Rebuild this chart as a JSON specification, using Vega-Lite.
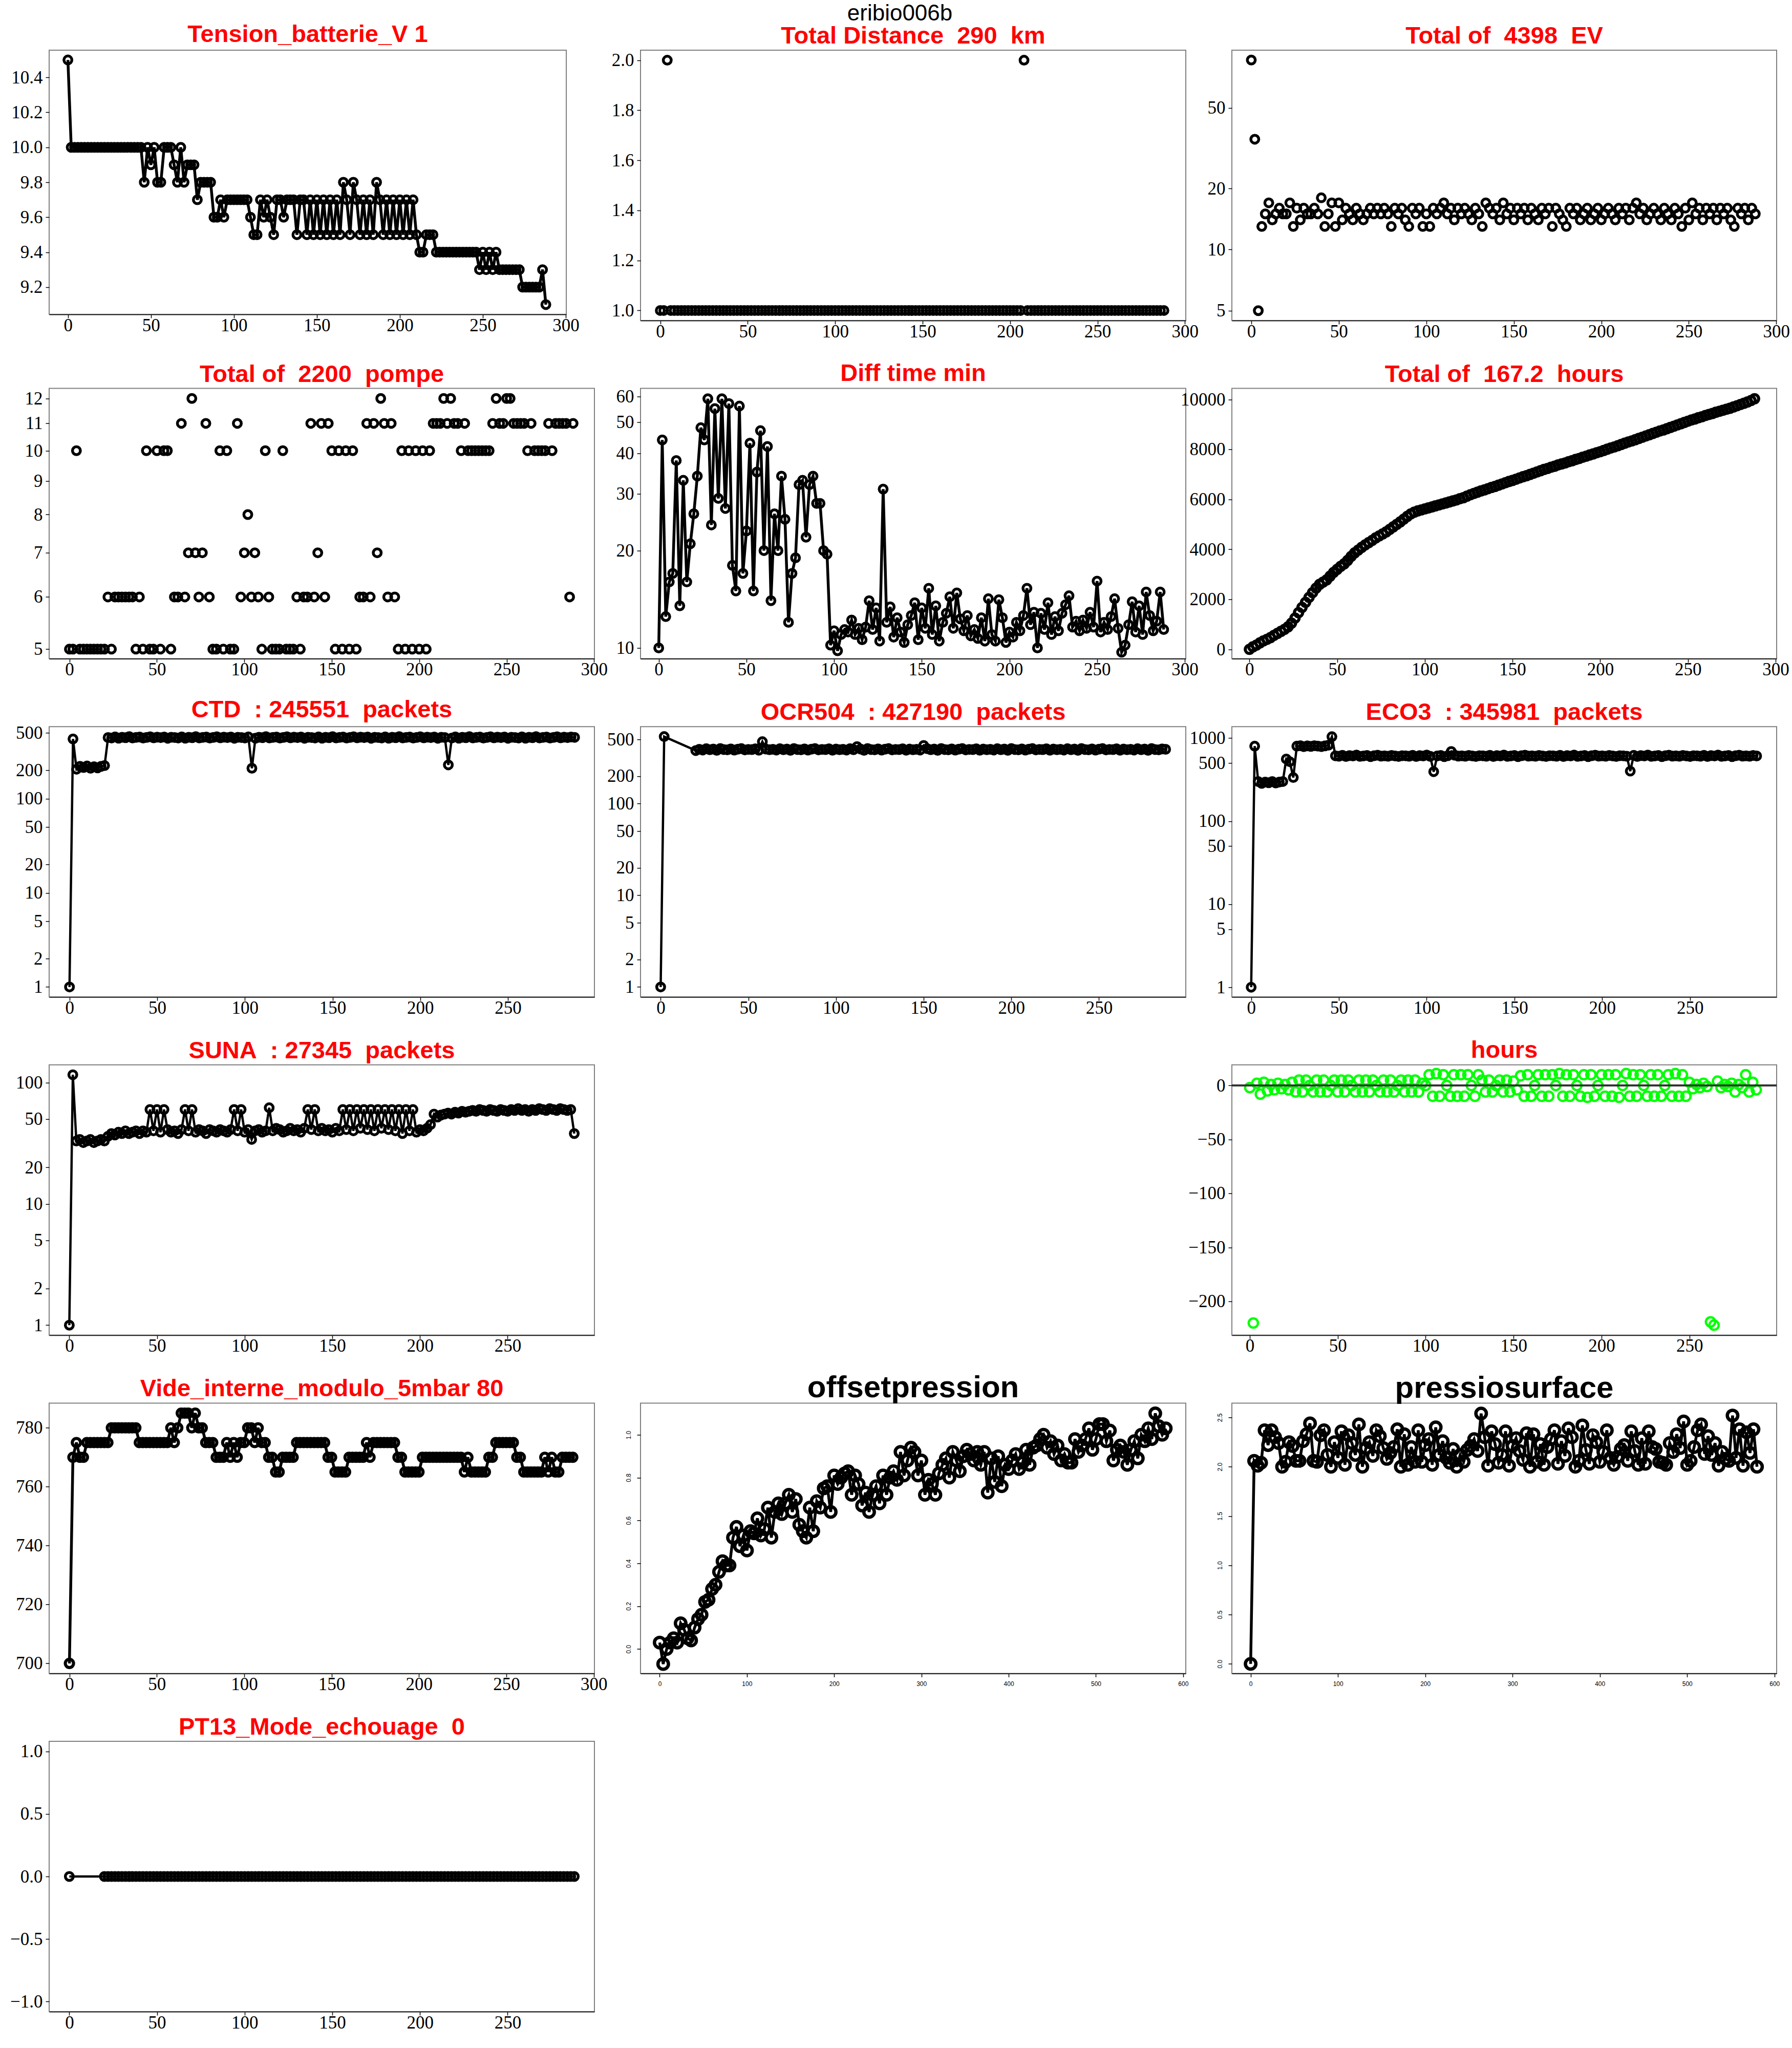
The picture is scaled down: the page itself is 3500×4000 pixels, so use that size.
{
"$schema": "https://vega.github.io/schema/vega-lite/v6.json",
"padding": {"left": 18, "top": 5, "right": 10, "bottom": 10},
"background": "white",
"title": {"text": "eribio006b", "fontWeight": "normal", "color": "black", "fontSize": 44, "offset": -6, "anchor": "middle", "frame": "bounds"},
"datasets": {
"m": [
{"x":0,"a":10.5,"b":1,"c":86,"d":5,"e":10,"f":0,"g":1,"h":1,"k":1,"s":1,"u":-2,"v":700,"w":0},
{"x":2,"a":10,"b":1,"c":35,"d":5,"e":44,"f":100,"g":430,"h":540,"k":800,"s":116,"u":-220,"v":770},
{"x":4,"a":10,"b":2,"c":5,"d":10,"e":12.5,"f":170,"g":205,"k":300,"s":33,"u":2,"v":775},
{"x":6,"a":10,"b":1,"c":13,"d":5,"e":16,"f":260,"g":220,"k":285,"s":34,"u":-8,"v":770},
{"x":8,"a":10,"b":1,"c":15,"d":5,"e":17,"f":340,"g":214,"k":295,"s":32,"u":3,"v":770},
{"x":10,"a":10,"b":1,"c":17,"d":5,"e":38,"f":400,"g":222,"k":290,"s":33,"u":-5,"v":775},
{"x":12,"a":10,"b":1,"c":14,"d":5,"e":13.5,"f":470,"g":210,"k":300,"s":34,"u":1,"v":775},
{"x":14,"a":10,"b":1,"c":15,"d":5,"e":33,"f":560,"g":218,"k":288,"s":32,"u":-4,"v":775},
{"x":16,"a":10,"b":1,"c":16,"d":5,"e":16,"f":640,"g":212,"k":295,"s":33,"u":2,"v":775},
{"x":18,"a":10,"b":1,"c":15,"d":5,"e":21,"f":720,"g":220,"k":300,"s":34,"u":-3,"v":775},
{"x":20,"a":10,"b":1,"c":15,"d":5,"e":26,"f":800,"g":224,"h":380,"k":560,"s":33,"u":1,"v":775,"w":0},
{"x":22,"a":10,"b":1,"c":17,"d":6,"e":34,"f":900,"g":445,"h":392,"k":520,"s":36,"u":-4,"v":775,"w":0},
{"x":24,"a":10,"b":1,"c":13,"d":5,"e":48,"f":1050,"g":440,"h":385,"k":335,"s":38,"u":3,"v":780,"w":0},
{"x":26,"a":10,"b":1,"c":16,"d":6,"e":44,"f":1250,"g":452,"h":398,"k":800,"s":37,"u":-6,"v":780,"w":0},
{"x":28,"a":10,"b":1,"c":14,"d":6,"e":59,"f":1470,"g":438,"h":388,"k":810,"s":39,"u":5,"v":780,"w":0},
{"x":30,"a":10,"b":1,"c":16,"d":6,"e":24,"f":1680,"g":448,"h":395,"k":790,"s":38,"u":-6,"v":780,"w":0},
{"x":32,"a":10,"b":1,"c":15,"d":6,"e":55,"f":1880,"g":443,"h":382,"k":805,"s":40,"u":5,"v":780,"w":0},
{"x":34,"a":10,"b":1,"c":15,"d":6,"e":29,"f":2080,"g":455,"h":400,"k":795,"s":38,"u":0,"v":780,"w":0},
{"x":36,"a":10,"b":1,"c":16,"d":6,"e":59,"f":2270,"g":441,"h":390,"k":810,"s":39,"u":-6,"v":780,"w":0},
{"x":38,"a":10,"b":1,"c":15,"d":5,"e":27,"f":2450,"g":447,"h":387,"k":800,"s":40,"u":5,"v":780,"w":0},
{"x":40,"a":10,"b":1,"c":18,"d":6,"e":57,"f":2600,"g":450,"h":396,"k":790,"s":38,"u":-6,"v":775,"w":0},
{"x":42,"a":10,"b":1,"c":13,"d":5,"e":18,"f":2690,"g":439,"h":384,"k":805,"s":40,"u":5,"v":775,"w":0},
{"x":44,"a":10,"b":1,"c":15,"d":10,"e":15,"f":2780,"g":446,"h":393,"k":820,"s":39,"u":-6,"v":775,"w":0},
{"x":46,"a":9.8,"b":1,"c":17,"d":5,"e":56,"f":2930,"g":453,"h":399,"k":1040,"s":60,"u":0,"v":775,"w":0},
{"x":48,"a":10,"b":1,"c":13,"d":5,"e":17,"f":3080,"g":442,"h":386,"k":612,"s":40,"u":5,"v":775,"w":0},
{"x":50,"a":9.9,"b":1,"c":17,"d":10,"e":23,"f":3200,"g":449,"h":391,"k":605,"s":60,"u":-6,"v":775,"w":0},
{"x":52,"a":10,"b":1,"c":14,"d":5,"e":43,"f":3320,"g":444,"h":389,"k":620,"s":39,"u":5,"v":775,"w":0},
{"x":54,"a":9.8,"b":1,"c":16,"d":10,"e":15,"f":3420,"g":451,"h":397,"k":600,"s":60,"u":-6,"v":775,"w":0},
{"x":56,"a":9.8,"b":1,"c":15,"d":10,"e":35,"f":3560,"g":437,"h":383,"k":615,"s":41,"u":5,"v":775,"w":0},
{"x":58,"a":10,"b":1,"c":14,"d":5,"e":47,"f":3720,"g":448,"h":475,"k":608,"s":39,"u":0,"v":780,"w":0},
{"x":60,"a":10,"b":1,"c":16,"d":6,"e":20,"f":3860,"g":445,"h":394,"k":625,"s":40,"u":-6,"v":775,"w":0},
{"x":62,"a":10,"b":1,"c":15,"d":6,"e":42,"f":3970,"g":440,"h":388,"k":603,"s":38,"u":5,"v":780,"w":0},
{"x":64,"a":9.9,"b":1,"c":14,"d":11,"e":14,"f":4080,"g":452,"h":392,"k":610,"s":41,"u":-6,"v":785,"w":0},
{"x":66,"a":9.8,"b":1,"c":15,"d":6,"e":26,"f":4180,"g":438,"h":385,"k":618,"s":60,"u":5,"v":785,"w":0},
{"x":68,"a":10,"b":1,"c":16,"d":7,"e":20,"f":4270,"g":448,"h":398,"k":598,"s":40,"u":-6,"v":785,"w":0},
{"x":70,"a":9.8,"b":1,"c":15,"d":12,"e":34,"f":4360,"g":443,"h":388,"k":613,"s":60,"u":5,"v":780,"w":0},
{"x":72,"a":9.9,"b":1,"c":16,"d":7,"e":25,"f":4460,"g":455,"h":395,"k":622,"s":39,"u":0,"v":785,"w":0},
{"x":74,"a":9.9,"b":1,"c":15,"d":6,"e":12,"f":4540,"g":441,"h":382,"k":606,"s":41,"u":-6,"v":780,"w":0},
{"x":76,"a":9.9,"b":1,"c":16,"d":7,"e":17,"f":4620,"g":447,"h":400,"k":611,"s":40,"u":5,"v":780,"w":0},
{"x":78,"a":9.7,"b":1,"c":15,"d":11,"e":19,"f":4700,"g":450,"h":390,"k":604,"s":38,"u":-6,"v":775,"w":0},
{"x":80,"a":9.8,"b":1,"c":13,"d":6,"e":32,"f":4800,"g":439,"h":387,"k":617,"s":41,"u":5,"v":775,"w":0},
{"x":82,"a":9.8,"b":1,"c":16,"d":5,"e":33,"f":4900,"g":446,"h":396,"k":609,"s":40,"u":-6,"v":775,"w":0},
{"x":84,"a":9.8,"b":1,"c":15,"d":5,"e":22,"f":5000,"g":453,"h":384,"k":601,"s":39,"u":0,"v":770,"w":0},
{"x":86,"a":9.8,"b":1,"c":16,"d":10,"e":32,"f":5100,"g":442,"h":393,"k":614,"s":41,"u":5,"v":770,"w":0},
{"x":88,"a":9.6,"b":1,"c":14,"d":5,"e":34,"f":5210,"g":449,"h":399,"k":612,"s":40,"u":-6,"v":770,"w":0},
{"x":90,"a":9.6,"b":1,"c":13,"d":10,"e":28,"f":5320,"g":444,"h":386,"k":605,"s":39,"u":5,"v":775,"w":0},
{"x":92,"a":9.7,"b":1,"c":16,"d":5,"e":28,"f":5420,"g":451,"h":391,"k":620,"s":41,"u":-6,"v":770,"w":0},
{"x":94,"a":9.6,"b":1,"c":15,"d":5,"e":20,"f":5490,"g":437,"h":389,"k":600,"s":60,"u":5,"v":775,"w":0},
{"x":96,"a":9.7,"b":1,"c":16,"d":11,"e":19.5,"f":5540,"g":448,"h":397,"k":615,"s":40,"u":-6,"v":770,"w":0},
{"x":98,"a":9.7,"b":1,"c":13,"d":6,"e":10.2,"f":5580,"g":445,"h":383,"k":608,"s":60,"u":2,"v":775,"w":0},
{"x":100,"a":9.7,"b":1,"c":15,"d":7,"e":11.3,"f":5620,"g":440,"h":394,"k":625,"s":39,"u":0,"v":775,"w":0},
{"x":102,"a":9.7,"b":1,"c":13,"d":8,"e":9.8,"f":5660,"g":452,"h":388,"k":603,"s":41,"u":10,"v":780,"w":0},
{"x":104,"a":9.7,"b":1,"c":16,"d":6,"e":11,"f":5700,"g":210,"h":392,"k":394,"s":34,"u":-10,"v":780,"w":0},
{"x":106,"a":9.7,"b":1,"c":15,"d":7,"e":11.4,"f":5740,"g":438,"h":385,"k":610,"s":40,"u":11,"v":775,"w":0},
{"x":108,"a":9.7,"b":1,"c":16,"d":6,"e":11.2,"f":5780,"g":448,"h":398,"k":618,"s":41,"u":-10,"v":780,"w":0},
{"x":110,"a":9.6,"b":1,"c":17,"d":5,"e":12.2,"f":5820,"g":443,"h":388,"k":598,"s":39,"u":10,"v":775,"w":0},
{"x":112,"a":9.5,"b":1,"c":15,"d":10,"e":11,"f":5860,"g":455,"h":420,"k":613,"s":40,"u":0,"v":775,"w":0},
{"x":114,"a":9.5,"b":1,"c":16,"d":6,"e":11.5,"f":5900,"g":441,"h":395,"k":690,"s":62,"u":-10,"v":770,"w":0},
{"x":116,"a":9.7,"b":1,"c":14,"d":5,"e":10.6,"f":5940,"g":447,"h":382,"k":622,"s":40,"u":10,"v":770,"w":0},
{"x":118,"a":9.6,"b":1,"c":16,"d":5,"e":11.6,"f":5980,"g":450,"h":400,"k":606,"s":42,"u":-10,"v":765,"w":0},
{"x":120,"a":9.7,"b":1,"c":15,"d":5,"e":14,"f":6030,"g":439,"h":390,"k":611,"s":41,"u":10,"v":765,"w":0},
{"x":122,"a":9.6,"b":1,"c":16,"d":10,"e":11.4,"f":6070,"g":446,"h":387,"k":604,"s":39,"u":-10,"v":770,"w":0},
{"x":124,"a":9.5,"b":1,"c":15,"d":5,"e":13.3,"f":6130,"g":453,"h":396,"k":617,"s":40,"u":10,"v":770,"w":0},
{"x":126,"a":9.7,"b":1,"c":14,"d":5,"e":10.5,"f":6190,"g":442,"h":384,"k":609,"s":42,"u":0,"v":770,"w":0},
{"x":128,"a":9.7,"b":1,"c":16,"d":5,"e":31,"f":6240,"g":449,"h":393,"k":601,"s":40,"u":-10,"v":770,"w":0},
{"x":130,"a":9.6,"b":1,"c":15,"d":6,"e":12,"f":6290,"g":444,"h":399,"k":614,"s":41,"u":10,"v":775,"w":0},
{"x":132,"a":9.7,"b":1,"c":13,"d":5,"e":13.4,"f":6340,"g":451,"h":386,"k":612,"s":39,"u":5,"v":775,"w":0},
{"x":134,"a":9.7,"b":1,"c":17,"d":6,"e":10.8,"f":6380,"g":437,"h":391,"k":605,"s":42,"u":-6,"v":775,"w":0},
{"x":136,"a":9.7,"b":1,"c":16,"d":6,"e":12.4,"f":6430,"g":448,"h":389,"k":620,"s":60,"u":5,"v":775,"w":0},
{"x":138,"a":9.5,"b":1,"c":15,"d":11,"e":11.2,"f":6480,"g":445,"h":397,"k":600,"s":41,"u":-6,"v":775,"w":0},
{"x":140,"a":9.7,"b":1,"c":16,"d":6,"e":10.4,"f":6520,"g":440,"h":383,"k":615,"s":60,"u":0,"v":775,"w":0},
{"x":142,"a":9.7,"b":1,"c":14,"d":7,"e":11.8,"f":6570,"g":452,"h":394,"k":608,"s":40,"u":5,"v":775,"w":0},
{"x":144,"a":9.5,"b":1,"c":17,"d":11,"e":12.6,"f":6620,"g":438,"h":388,"k":625,"s":42,"u":-6,"v":775,"w":0},
{"x":146,"a":9.7,"b":1,"c":15,"d":6,"e":13.8,"f":6670,"g":448,"h":392,"k":603,"s":40,"u":5,"v":775,"w":0},
{"x":148,"a":9.5,"b":1,"c":16,"d":11,"e":10.6,"f":6720,"g":443,"h":385,"k":610,"s":41,"u":-6,"v":770,"w":0},
{"x":150,"a":9.7,"b":1,"c":14,"d":10,"e":13.3,"f":6760,"g":455,"h":432,"k":618,"s":39,"u":4,"v":770,"w":0},
{"x":152,"a":9.5,"b":1,"c":16,"d":5,"e":11.5,"f":6810,"g":441,"h":398,"k":598,"s":42,"u":-4,"v":765,"w":0},
{"x":154,"a":9.7,"b":1,"c":15,"d":10,"e":15.3,"f":6860,"g":447,"h":388,"k":613,"s":40,"u":9,"v":765,"w":0},
{"x":156,"a":9.5,"b":1,"c":16,"d":5,"e":11,"f":6910,"g":450,"h":395,"k":622,"s":60,"u":-10,"v":765,"w":0},
{"x":158,"a":9.7,"b":1,"c":14,"d":10,"e":13.5,"f":6950,"g":439,"h":382,"k":606,"s":41,"u":10,"v":765,"w":0},
{"x":160,"a":9.5,"b":1,"c":16,"d":5,"e":10.5,"f":7000,"g":446,"h":400,"k":611,"s":60,"u":-10,"v":770,"w":0},
{"x":162,"a":9.7,"b":1,"c":15,"d":10,"e":12,"f":7050,"g":453,"h":390,"k":604,"s":40,"u":0,"v":770,"w":0},
{"x":164,"a":9.5,"b":1,"c":14,"d":5,"e":12.8,"f":7100,"g":442,"h":387,"k":617,"s":60,"u":10,"v":770,"w":0},
{"x":166,"a":9.8,"b":1,"c":16,"d":6,"e":14.4,"f":7150,"g":449,"h":396,"k":609,"s":42,"u":-10,"v":770,"w":0},
{"x":168,"a":9.7,"b":1,"c":15,"d":6,"e":11.5,"f":7200,"g":444,"h":384,"k":601,"s":60,"u":10,"v":770,"w":0},
{"x":170,"a":9.5,"b":1,"c":16,"d":11,"e":14.8,"f":7240,"g":451,"h":393,"k":614,"s":41,"u":-10,"v":775,"w":0},
{"x":172,"a":9.8,"b":1,"c":13,"d":6,"e":12.3,"f":7290,"g":437,"h":399,"k":612,"s":60,"u":10,"v":770,"w":0},
{"x":174,"a":9.7,"b":1,"c":16,"d":11,"e":11.3,"f":7330,"g":448,"h":386,"k":605,"s":40,"u":0,"v":775,"w":0},
{"x":176,"a":9.5,"b":1,"c":15,"d":7,"e":12.6,"f":7380,"g":445,"h":391,"k":620,"s":60,"u":11,"v":775,"w":0},
{"x":178,"a":9.7,"b":1,"c":14,"d":12,"e":10.9,"f":7420,"g":440,"h":389,"k":600,"s":42,"u":-10,"v":775,"w":0},
{"x":180,"a":9.5,"b":1,"c":13,"d":11,"e":11.4,"f":7460,"g":452,"h":397,"k":615,"s":60,"u":10,"v":775,"w":0},
{"x":182,"a":9.7,"b":1,"c":16,"d":6,"e":10.7,"f":7510,"g":438,"h":383,"k":608,"s":41,"u":-10,"v":775,"w":0},
{"x":184,"a":9.5,"b":1,"c":15,"d":11,"e":12.4,"f":7550,"g":448,"h":394,"k":625,"s":60,"u":10,"v":775,"w":0},
{"x":186,"a":9.8,"b":1,"c":16,"d":6,"e":10.5,"f":7600,"g":443,"h":388,"k":603,"s":40,"u":0,"v":775,"w":0},
{"x":188,"a":9.7,"b":1,"c":14,"d":5,"e":14.2,"f":7640,"g":455,"h":392,"k":610,"s":60,"u":-10,"v":770,"w":0},
{"x":190,"a":9.5,"b":1,"c":15,"d":10,"e":11,"f":7690,"g":441,"h":385,"k":618,"s":38,"u":10,"v":770,"w":0},
{"x":192,"a":9.7,"b":1,"c":16,"d":5,"e":10.5,"f":7730,"g":447,"h":398,"k":598,"s":60,"u":-11,"v":765,"w":0},
{"x":194,"a":9.5,"b":1,"c":14,"d":10,"e":14.1,"f":7780,"g":450,"h":388,"k":613,"s":40,"u":10,"v":765,"w":0},
{"x":196,"a":9.7,"b":1,"c":15,"d":5,"e":12.4,"f":7820,"g":439,"h":395,"k":622,"s":60,"u":-10,"v":765,"w":0},
{"x":198,"a":9.5,"b":1,"c":16,"d":10,"e":10.4,"f":7870,"g":446,"h":382,"k":606,"s":39,"u":0,"v":765,"w":0},
{"x":200,"a":9.7,"b":1,"c":14,"d":5,"e":11.2,"f":7910,"g":453,"h":400,"k":611,"s":41,"u":10,"v":765,"w":0},
{"x":202,"a":9.5,"b":1,"c":15,"d":10,"e":10.8,"f":7960,"g":442,"h":390,"k":604,"s":40,"u":-10,"v":770,"w":0},
{"x":204,"a":9.7,"b":1,"c":16,"d":5,"e":12,"f":8010,"g":449,"h":387,"k":617,"s":42,"u":10,"v":770,"w":0},
{"x":206,"a":9.5,"b":1,"c":15,"d":10,"e":11.3,"f":8060,"g":444,"h":396,"k":609,"s":45,"u":-10,"v":770,"w":0},
{"x":208,"a":9.7,"b":2,"c":14,"d":11,"e":12.6,"f":8100,"g":451,"h":384,"k":601,"s":55,"u":10,"v":770,"w":0},
{"x":210,"a":9.5,"b":1,"c":16,"d":11,"e":15.3,"f":8150,"g":437,"h":393,"k":614,"s":52,"u":-11,"v":770,"w":0},
{"x":212,"a":9.4,"b":1,"c":15,"d":11,"e":11.8,"f":8200,"g":448,"h":399,"k":612,"s":54,"u":0,"v":770,"w":0},
{"x":214,"a":9.4,"b":1,"c":16,"d":12,"e":12.9,"f":8250,"g":445,"h":386,"k":605,"s":55,"u":11,"v":770,"w":0},
{"x":216,"a":9.5,"b":1,"c":14,"d":11,"e":10,"f":8300,"g":228,"h":391,"k":400,"s":56,"u":-10,"v":770,"w":0},
{"x":218,"a":9.5,"b":1,"c":16,"d":12,"e":12.8,"f":8340,"g":440,"h":389,"k":620,"s":55,"u":10,"v":770,"w":0},
{"x":220,"a":9.5,"b":1,"c":17,"d":11,"e":11.4,"f":8390,"g":452,"h":397,"k":600,"s":57,"u":-10,"v":770,"w":0},
{"x":222,"a":9.4,"b":1,"c":15,"d":11,"e":13.8,"f":8440,"g":438,"h":383,"k":615,"s":56,"u":10,"v":770,"w":0},
{"x":224,"a":9.4,"b":1,"c":16,"d":10,"e":11,"f":8490,"g":448,"h":394,"k":608,"s":58,"u":0,"v":770,"w":0},
{"x":226,"a":9.4,"b":1,"c":14,"d":11,"e":12.5,"f":8540,"g":443,"h":388,"k":625,"s":57,"u":-10,"v":765,"w":0},
{"x":228,"a":9.4,"b":1,"c":15,"d":10,"e":11.3,"f":8590,"g":455,"h":392,"k":603,"s":58,"u":10,"v":770,"w":0},
{"x":230,"a":9.4,"b":1,"c":16,"d":10,"e":12.8,"f":8640,"g":441,"h":385,"k":610,"s":59,"u":-10,"v":765,"w":0},
{"x":232,"a":9.4,"b":1,"c":15,"d":10,"e":13.6,"f":8690,"g":447,"h":398,"k":618,"s":58,"u":10,"v":765,"w":0},
{"x":234,"a":9.4,"b":1,"c":14,"d":10,"e":14.5,"f":8740,"g":450,"h":388,"k":598,"s":60,"u":-10,"v":765,"w":0},
{"x":236,"a":9.4,"b":1,"c":16,"d":10,"e":11.6,"f":8780,"g":439,"h":395,"k":613,"s":59,"u":0,"v":765,"w":0},
{"x":238,"a":9.4,"b":1,"c":15,"d":10,"e":12.1,"f":8830,"g":446,"h":382,"k":622,"s":58,"u":10,"v":765,"w":0},
{"x":240,"a":9.4,"b":1,"c":14,"d":10,"e":11.3,"f":8880,"g":453,"h":400,"k":606,"s":60,"u":-10,"v":770,"w":0},
{"x":242,"a":9.4,"b":1,"c":16,"d":11,"e":12.2,"f":8930,"g":442,"h":390,"k":611,"s":59,"u":11,"v":770,"w":0},
{"x":244,"a":9.4,"b":1,"c":15,"d":12,"e":11.5,"f":8980,"g":449,"h":387,"k":604,"s":58,"u":-10,"v":775,"w":0},
{"x":246,"a":9.4,"b":1,"c":13,"d":11,"e":12.9,"f":9030,"g":444,"h":396,"k":617,"s":60,"u":10,"v":775,"w":0},
{"x":248,"a":9.3,"b":1,"c":16,"d":11,"e":11.6,"f":9080,"g":451,"h":384,"k":609,"s":59,"u":-10,"v":775,"w":0},
{"x":250,"a":9.4,"b":1,"c":14,"d":12,"e":16.1,"f":9130,"g":437,"h":393,"k":601,"s":58,"u":3,"v":775,"w":0},
{"x":252,"a":9.3,"b":1,"c":17,"d":12,"e":11.2,"f":9180,"g":448,"h":399,"k":614,"s":60,"u":-3,"v":775,"w":0},
{"x":254,"a":9.4,"b":1,"c":15,"d":11,"e":12,"f":9220,"g":445,"h":386,"k":612,"s":59,"u":1,"v":775,"w":0},
{"x":256,"a":9.3,"b":1,"c":16,"d":11,"e":11.4,"f":9270,"g":440,"h":391,"k":605,"s":61,"u":-2,"v":770,"w":0},
{"x":258,"a":9.4,"b":1,"c":14,"d":11,"e":12.5,"f":9310,"g":452,"h":389,"k":620,"s":59,"u":2,"v":770,"w":0},
{"x":260,"a":9.3,"b":1,"c":16,"d":11,"e":14.2,"f":9360,"g":438,"h":397,"k":600,"s":60,"u":-1,"v":765,"w":0},
{"x":262,"a":9.3,"b":1,"c":15,"d":10,"e":11.5,"f":9400,"g":448,"h":383,"k":615,"s":58,"u":-219,"v":765,"w":0},
{"x":264,"a":9.3,"b":1,"c":16,"d":11,"e":9.7,"f":9440,"g":443,"h":394,"k":608,"s":60,"u":-222,"v":765,"w":0},
{"x":266,"a":9.3,"b":1,"c":14,"d":10,"e":10.2,"f":9490,"g":455,"h":388,"k":625,"s":59,"u":4,"v":765,"w":0},
{"x":268,"a":9.3,"b":1,"c":16,"d":10,"e":11.8,"f":9530,"g":441,"h":392,"k":603,"s":61,"u":-2,"v":765,"w":0},
{"x":270,"a":9.3,"b":1,"c":15,"d":10,"e":13.9,"f":9570,"g":447,"h":385,"k":610,"s":60,"u":1,"v":765,"w":0},
{"x":272,"a":9.3,"b":1,"c":16,"d":10,"e":11.2,"f":9610,"g":450,"h":398,"k":618,"s":59,"u":-1,"v":770,"w":0},
{"x":274,"a":9.2,"b":1,"c":14,"d":11,"e":13.5,"f":9650,"g":439,"h":388,"k":598,"s":61,"u":2,"v":765,"w":0},
{"x":276,"a":9.2,"b":1,"c":13,"d":10,"e":11,"f":9700,"g":446,"h":395,"k":613,"s":60,"u":-6,"v":770,"w":0},
{"x":278,"a":9.2,"b":1,"c":16,"d":11,"e":14.9,"f":9750,"g":453,"h":382,"k":622,"s":59,"u":1,"v":765,"w":0},
{"x":280,"a":9.2,"b":1,"c":15,"d":11,"e":12.6,"f":9800,"g":442,"h":400,"k":606,"s":61,"u":-2,"v":765,"w":0},
{"x":282,"a":9.2,"b":1,"c":16,"d":11,"e":11.3,"f":9850,"g":449,"h":390,"k":611,"s":60,"u":10,"v":770,"w":0},
{"x":284,"a":9.2,"b":1,"c":14,"d":11,"e":12.1,"f":9900,"g":444,"h":387,"k":604,"s":59,"u":-6,"v":770,"w":0},
{"x":286,"a":9.3,"b":1,"c":16,"d":6,"e":14.9,"f":9960,"g":451,"h":396,"k":617,"s":60,"u":3,"v":770,"w":0},
{"x":288,"a":9.1,"b":1,"c":15,"d":11,"e":11.4,"f":10030,"g":447,"h":392,"k":609,"s":38,"u":-4,"v":770,"w":0}
],
"q": [
{"x":0,"o":0.03,"p":0},{"x":4,"o":-0.07,"p":2.06},{"x":8,"o":0,"p":2.01},{"x":12,"o":0.03,"p":2.04},{"x":16,"o":0.05,"p":2.37},{"x":20,"o":0.03,"p":2.22},{"x":24,"o":0.12,"p":2.37},{"x":28,"o":0.09,"p":2.3},{"x":32,"o":0.05,"p":2.24},{"x":36,"o":0.04,"p":2},
{"x":40,"o":0.1,"p":2.05},{"x":44,"o":0.14,"p":2.25},{"x":48,"o":0.16,"p":2.21},{"x":52,"o":0.22,"p":2.06},{"x":56,"o":0.23,"p":2.06},{"x":60,"o":0.28,"p":2.26},{"x":64,"o":0.3,"p":2.33},{"x":68,"o":0.36,"p":2.44},{"x":72,"o":0.41,"p":2.06},{"x":76,"o":0.39,"p":2.05},
{"x":80,"o":0.39,"p":2.32},{"x":84,"o":0.52,"p":2.37},{"x":88,"o":0.57,"p":2.12},{"x":92,"o":0.48,"p":2},{"x":96,"o":0.53,"p":2.25},{"x":100,"o":0.46,"p":2.09},{"x":104,"o":0.55,"p":2.36},{"x":108,"o":0.54,"p":2.02},{"x":112,"o":0.61,"p":2.32},{"x":116,"o":0.53,"p":2.24},
{"x":120,"o":0.56,"p":2.12},{"x":124,"o":0.66,"p":2.43},{"x":128,"o":0.52,"p":2},{"x":132,"o":0.64,"p":2.19},{"x":136,"o":0.68,"p":2.25},{"x":140,"o":0.63,"p":2.11},{"x":144,"o":0.68,"p":2.37},{"x":148,"o":0.72,"p":2.31},{"x":152,"o":0.64,"p":2.19},{"x":156,"o":0.7,"p":2.08},
{"x":160,"o":0.58,"p":2.14},{"x":164,"o":0.55,"p":2.2},{"x":168,"o":0.52,"p":2.38},{"x":172,"o":0.66,"p":2},{"x":176,"o":0.55,"p":2.33},{"x":180,"o":0.69,"p":2.02},{"x":184,"o":0.66,"p":2.2},{"x":188,"o":0.75,"p":2.05},{"x":192,"o":0.76,"p":2.37},{"x":196,"o":0.64,"p":2.05},
{"x":200,"o":0.81,"p":2.22},{"x":204,"o":0.77,"p":2.28},{"x":208,"o":0.8,"p":2.02},{"x":212,"o":0.82,"p":2.4},{"x":216,"o":0.83,"p":2.12},{"x":220,"o":0.72,"p":2.26},{"x":224,"o":0.81,"p":2.09},{"x":228,"o":0.77,"p":2.04},{"x":232,"o":0.67,"p":2.18},{"x":236,"o":0.73,"p":2},
{"x":240,"o":0.64,"p":2.12},{"x":244,"o":0.72,"p":2.05},{"x":248,"o":0.76,"p":2.17},{"x":252,"o":0.68,"p":2.21},{"x":256,"o":0.81,"p":2.28},{"x":260,"o":0.72,"p":2.16},{"x":264,"o":0.8,"p":2.54},{"x":268,"o":0.83,"p":2.3},{"x":272,"o":0.79,"p":2.01},{"x":276,"o":0.92,"p":2.36},
{"x":280,"o":0.81,"p":2.23},{"x":284,"o":0.88,"p":2.04},{"x":288,"o":0.94,"p":2.12},{"x":292,"o":0.92,"p":2.36},{"x":296,"o":0.81,"p":2.01},{"x":300,"o":0.88,"p":2.21},{"x":304,"o":0.72,"p":2.29},{"x":308,"o":0.79,"p":2.16},{"x":312,"o":0.77,"p":2.07},{"x":316,"o":0.72,"p":2.34},
{"x":320,"o":0.82,"p":2},{"x":324,"o":0.86,"p":2.33},{"x":328,"o":0.89,"p":2.05},{"x":332,"o":0.8,"p":2.23},{"x":336,"o":0.92,"p":2.02},{"x":340,"o":0.88,"p":2.2},{"x":344,"o":0.83,"p":2.28},{"x":348,"o":0.9,"p":2.37},{"x":352,"o":0.93,"p":2.03},{"x":356,"o":0.91,"p":2.26},
{"x":360,"o":0.88,"p":2.11},{"x":364,"o":0.92,"p":2.39},{"x":368,"o":0.86,"p":2.3},{"x":372,"o":0.92,"p":2},{"x":376,"o":0.73,"p":2.06},{"x":380,"o":0.89,"p":2.42},{"x":384,"o":0.78,"p":2.17},{"x":388,"o":0.9,"p":2.03},{"x":392,"o":0.76,"p":2.32},{"x":396,"o":0.86,"p":2.25},
{"x":400,"o":0.84,"p":2.05},{"x":404,"o":0.88,"p":2.15},{"x":408,"o":0.91,"p":2.37},{"x":412,"o":0.84,"p":2.09},{"x":416,"o":0.87,"p":2.02},{"x":420,"o":0.93,"p":2.1},{"x":424,"o":0.86,"p":2.18},{"x":428,"o":0.94,"p":2.22},{"x":432,"o":0.95,"p":2.06},{"x":436,"o":0.98,"p":2.36},
{"x":440,"o":1,"p":2.16},{"x":444,"o":0.94,"p":2.02},{"x":448,"o":0.97,"p":2.29},{"x":452,"o":0.91,"p":2.03},{"x":456,"o":0.95,"p":2.36},{"x":460,"o":0.88,"p":2.2},{"x":464,"o":0.91,"p":2.18},{"x":468,"o":0.87,"p":2.05},{"x":472,"o":0.87,"p":2.04},{"x":476,"o":0.98,"p":2.02},
{"x":480,"o":0.92,"p":2.24},{"x":484,"o":0.95,"p":2.15},{"x":488,"o":0.98,"p":2.33},{"x":492,"o":1.03,"p":2.19},{"x":496,"o":0.93,"p":2.46},{"x":500,"o":0.98,"p":2.02},{"x":504,"o":1.05,"p":2.06},{"x":508,"o":1.05,"p":2.2},{"x":512,"o":0.97,"p":2.37},{"x":516,"o":1.02,"p":2.43},
{"x":520,"o":0.88,"p":2.13},{"x":524,"o":0.93,"p":2.31},{"x":528,"o":0.95,"p":2.12},{"x":532,"o":0.92,"p":2.24},{"x":536,"o":0.86,"p":2.01},{"x":540,"o":0.93,"p":2.15},{"x":544,"o":0.97,"p":2.08},{"x":548,"o":0.89,"p":2.06},{"x":552,"o":1,"p":2.52},{"x":556,"o":0.97,"p":2.09},
{"x":560,"o":1.03,"p":2.38},{"x":564,"o":0.98,"p":2.01},{"x":568,"o":1.1,"p":2.35},{"x":572,"o":1.04,"p":2.14},{"x":576,"o":1,"p":2.38},{"x":580,"o":1.03,"p":2}
]
},
"columns": 3,
"spacing": {"row": 132.6, "column": 90},
"bounds": "flush",
"align": "all",
"concat": [
 {"width":1010,"height":516,"data":{"name":"m"},"title":{"text":"Tension_batterie_V 1","offset":6},
  "encoding":{"x":{"field":"x","type":"quantitative","title":null,"scale":{"domain":[-11.3,300.3],"nice":false,"zero":false},"axis":{"values":[0,50,100,150,200,250,300]}},
   "y":{"field":"a","type":"quantitative","title":null,"scale":{"domain":[9.044,10.556],"nice":false,"zero":false},"axis":{"values":[9.2,9.4,9.6,9.8,10,10.2,10.4],"format":".1f"}}},
  "layer":[{"mark":{"type":"line","color":"black","strokeWidth":5.5}},{"mark":{"type":"point","color":"black","size":240,"strokeWidth":5.5}}]},
 {"width":1065,"height":528,"data":{"name":"m"},"title":{"text":"Total Distance\u00a0 290\u00a0 km"},
  "encoding":{"x":{"field":"x","type":"quantitative","title":null,"scale":{"domain":[-11.3,300.5],"nice":false,"zero":false},"axis":{"values":[0,50,100,150,200,250,300]}},
   "y":{"field":"b","type":"quantitative","title":null,"scale":{"domain":[0.96,2.04],"nice":false,"zero":false},"axis":{"values":[1,1.2,1.4,1.6,1.8,2],"format":".1f"}}},
  "mark":{"type":"point","color":"black","size":240,"strokeWidth":5.5}},
 {"width":1064,"height":528,"data":{"name":"m"},"title":{"text":"Total of\u00a0 4398\u00a0 EV"},
  "encoding":{"x":{"field":"x","type":"quantitative","title":null,"scale":{"domain":[-11.1,300.2],"nice":false,"zero":false},"axis":{"values":[0,50,100,150,200,250,300]}},
   "y":{"field":"c","type":"quantitative","title":null,"scale":{"type":"log","domain":[4.47,96.2],"nice":false},"axis":{"values":[5,10,20,50],"labelExpr":"format(datum.value,'d')"}}},
  "mark":{"type":"point","color":"black","size":240,"strokeWidth":5.5}},
 {"width":1065,"height":528,"data":{"name":"m"},"title":{"text":"Total of\u00a0 2200\u00a0 pompe"},
  "encoding":{"x":{"field":"x","type":"quantitative","title":null,"scale":{"domain":[-11.6,300.2],"nice":false,"zero":false},"axis":{"values":[0,50,100,150,200,250,300]}},
   "y":{"field":"d","type":"quantitative","title":null,"scale":{"type":"log","domain":[4.835,12.43],"nice":false},"axis":{"values":[5,6,7,8,9,10,11,12],"labelExpr":"format(datum.value,'d')"}}},
  "mark":{"type":"point","color":"black","size":240,"strokeWidth":5.5}},
 {"width":1065,"height":528,"data":{"name":"m"},"title":{"text":"Diff time min"},
  "encoding":{"x":{"field":"x","type":"quantitative","title":null,"scale":{"domain":[-10.4,300.6],"nice":false,"zero":false},"axis":{"values":[0,50,100,150,200,250,300]}},
   "y":{"field":"e","type":"quantitative","title":null,"scale":{"type":"log","domain":[9.26,63.5],"nice":false},"axis":{"values":[10,20,30,40,50,60],"labelExpr":"format(datum.value,'d')"}}},
  "layer":[{"mark":{"type":"line","color":"black","strokeWidth":5.5}},{"mark":{"type":"point","color":"black","size":240,"strokeWidth":5.5}}]},
 {"width":1064,"height":528,"data":{"name":"m"},"title":{"text":"Total of\u00a0 167.2\u00a0 hours"},
  "encoding":{"x":{"field":"x","type":"quantitative","title":null,"scale":{"domain":[-10,300.6],"nice":false,"zero":false},"axis":{"values":[0,50,100,150,200,250,300]}},
   "y":{"field":"f","type":"quantitative","title":null,"scale":{"domain":[-375,10444],"nice":false,"zero":false},"axis":{"values":[0,2000,4000,6000,8000,10000],"format":"d"}}},
  "mark":{"type":"point","color":"black","size":260,"strokeWidth":6}},
 {"width":1065,"height":528,"data":{"name":"m"},"title":{"text":"CTD\u00a0 : 245551\u00a0 packets"},
  "encoding":{"x":{"field":"x","type":"quantitative","title":null,"scale":{"domain":[-11.6,299.3],"nice":false,"zero":false},"axis":{"values":[0,50,100,150,200,250]}},
   "y":{"field":"g","type":"quantitative","title":null,"scale":{"type":"log","domain":[0.783,581],"nice":false},"axis":{"values":[1,2,5,10,20,50,100,200,500],"labelExpr":"format(datum.value,'d')"}}},
  "layer":[{"mark":{"type":"line","color":"black","strokeWidth":4.5}},{"mark":{"type":"point","color":"black","size":240,"strokeWidth":5.5}}]},
 {"width":1065,"height":528,"data":{"name":"m"},"title":{"text":"OCR504\u00a0 : 427190\u00a0 packets"},
  "transform":[{"filter":"isValid(datum.h)"}],
  "encoding":{"x":{"field":"x","type":"quantitative","title":null,"scale":{"domain":[-11.5,299.5],"nice":false,"zero":false},"axis":{"values":[0,50,100,150,200,250]}},
   "y":{"field":"h","type":"quantitative","title":null,"scale":{"type":"log","domain":[0.778,693],"nice":false},"axis":{"values":[1,2,5,10,20,50,100,200,500],"labelExpr":"format(datum.value,'d')"}}},
  "layer":[{"mark":{"type":"line","color":"black","strokeWidth":4.5}},{"mark":{"type":"point","color":"black","size":240,"strokeWidth":5.5}}]},
 {"width":1064,"height":528,"data":{"name":"m"},"title":{"text":"ECO3\u00a0 : 345981\u00a0 packets"},
  "encoding":{"x":{"field":"x","type":"quantitative","title":null,"scale":{"domain":[-11,299.4],"nice":false,"zero":false},"axis":{"values":[0,50,100,150,200,250]}},
   "y":{"field":"k","type":"quantitative","title":null,"scale":{"type":"log","domain":[0.763,1374],"nice":false},"axis":{"values":[1,5,10,50,100,500,1000],"labelExpr":"format(datum.value,'d')"}}},
  "layer":[{"mark":{"type":"line","color":"black","strokeWidth":4.5}},{"mark":{"type":"point","color":"black","size":240,"strokeWidth":5.5}}]},
 {"width":1065,"height":528,"data":{"name":"m"},"title":{"text":"SUNA\u00a0 : 27345\u00a0 packets"},
  "encoding":{"x":{"field":"x","type":"quantitative","title":null,"scale":{"domain":[-11.5,299.5],"nice":false,"zero":false},"axis":{"values":[0,50,100,150,200,250]}},
   "y":{"field":"s","type":"quantitative","title":null,"scale":{"type":"log","domain":[0.827,140],"nice":false},"axis":{"values":[1,2,5,10,20,50,100],"labelExpr":"format(datum.value,'d')"}}},
  "layer":[{"mark":{"type":"line","color":"black","strokeWidth":4.5}},{"mark":{"type":"point","color":"black","size":240,"strokeWidth":5.5}}]},
 {"width":1065,"height":528,"data":{"values":[]},"mark":{"type":"point","opacity":0},"encoding":{},"view":{"stroke":null}},
 {"width":1064,"height":528,"data":{"name":"m"},"title":{"text":"hours"},
  "encoding":{"x":{"field":"x","type":"quantitative","title":null,"scale":{"domain":[-10.2,299.6],"nice":false,"zero":false},"axis":{"values":[0,50,100,150,200,250]}},
   "y":{"field":"u","type":"quantitative","title":null,"scale":{"domain":[-231.3,19.1],"nice":false,"zero":false},"axis":{"values":[-200,-150,-100,-50,0],"format":"d"}}},
  "layer":[{"mark":{"type":"point","color":"#00ff00","size":330,"strokeWidth":4.5}},
   {"mark":{"type":"rule","color":"#333333","strokeWidth":4},"encoding":{"y":{"datum":0},"x":null}}]},
 {"width":1065,"height":528,"data":{"name":"m"},"title":{"text":"Vide_interne_modulo_5mbar 80"},
  "encoding":{"x":{"field":"x","type":"quantitative","title":null,"scale":{"domain":[-11.6,300.4],"nice":false,"zero":false},"axis":{"values":[0,50,100,150,200,250,300]}},
   "y":{"field":"v","type":"quantitative","title":null,"scale":{"domain":[696.6,788.4],"nice":false,"zero":false},"axis":{"values":[700,720,740,760,780],"format":"d"}}},
  "layer":[{"mark":{"type":"line","color":"black","strokeWidth":5.5}},{"mark":{"type":"point","color":"black","size":260,"strokeWidth":6}}]},
 {"width":1065,"height":528,"data":{"name":"q"},"title":{"text":"offsetpression","color":"black","fontSize":60,"offset":-5},
  "encoding":{"x":{"field":"x","type":"quantitative","title":null,"scale":{"domain":[-22,603],"nice":false,"zero":false},"axis":{"values":[0,100,200,300,400,500,600],"labelFont":"Liberation Sans","labelFontSize":12,"labelPadding":8}},
   "y":{"field":"o","type":"quantitative","title":null,"scale":{"domain":[-0.114,1.148],"nice":false,"zero":false},"axis":{"values":[0,0.2,0.4,0.6,0.8,1],"format":".1f","labelFont":"Liberation Sans","labelFontSize":12,"labelAngle":-90,"labelAlign":"center","labelBaseline":"bottom","labelPadding":10}}},
  "layer":[{"mark":{"type":"line","color":"black","strokeWidth":5.5}},{"mark":{"type":"point","color":"black","size":420,"strokeWidth":6.5}}]},
 {"width":1064,"height":528,"data":{"name":"q"},"title":{"text":"pressiosurface","color":"black","fontSize":60,"offset":-5},
  "encoding":{"x":{"field":"x","type":"quantitative","title":null,"scale":{"domain":[-21.5,602.5],"nice":false,"zero":false},"axis":{"values":[0,100,200,300,400,500,600],"labelFont":"Liberation Sans","labelFontSize":12,"labelPadding":8}},
   "y":{"field":"p","type":"quantitative","title":null,"scale":{"domain":[-0.097,2.646],"nice":false,"zero":false},"axis":{"values":[0,0.5,1,1.5,2,2.5],"format":".1f","labelFont":"Liberation Sans","labelFontSize":12,"labelAngle":-90,"labelAlign":"center","labelBaseline":"bottom","labelPadding":10}}},
  "layer":[{"mark":{"type":"line","color":"black","strokeWidth":5.5}},{"mark":{"type":"point","color":"black","size":420,"strokeWidth":6.5}}]},
 {"width":1065,"height":528,"data":{"name":"m"},"title":{"text":"PT13_Mode_echouage\u00a0 0"},
  "transform":[{"filter":"isValid(datum.w)"}],
  "encoding":{"x":{"field":"x","type":"quantitative","title":null,"scale":{"domain":[-11.5,299.5],"nice":false,"zero":false},"axis":{"values":[0,50,100,150,200,250]}},
   "y":{"field":"w","type":"quantitative","title":null,"scale":{"domain":[-1.08,1.08],"nice":false,"zero":false},"axis":{"values":[-1,-0.5,0,0.5,1],"format":".1f"}}},
  "layer":[{"mark":{"type":"line","color":"black","strokeWidth":4.5}},{"mark":{"type":"point","color":"black","size":240,"strokeWidth":5.5}}]}
],
"config": {
 "view": {"stroke": "#808080", "strokeWidth": 2},
 "point": {"filled": false, "opacity": 1, "shape": "circle"},
 "axis": {"labelFont": "Liberation Serif", "labelFontSize": 35, "labelColor": "black", "tickColor": "black", "tickSize": 7, "tickWidth": 1.5, "grid": false, "labelFlush": false, "labelOverlap": false, "domain": false},
 "axisX": {"labelPadding": -3, "domain": true, "domainColor": "#222222", "domainWidth": 2},
 "axisY": {"labelPadding": 6},
 "title": {"font": "Liberation Sans", "fontWeight": "bold", "fontSize": 47, "color": "#ff0000", "anchor": "middle", "frame": "group", "offset": 3, "baseline": "alphabetic"}
}
}
